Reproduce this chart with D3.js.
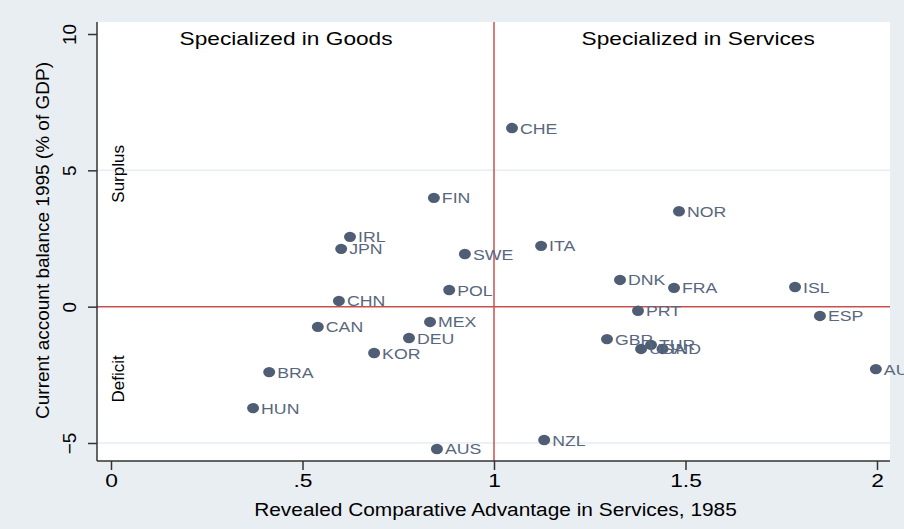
<!DOCTYPE html>
<html>
<head>
<meta charset="utf-8">
<script src="https://cdn.jsdelivr.net/npm/d3@7"></script>
<style>
  body { margin: 0; background: #e9eef3; }
  svg { display: block; font-family: "Liberation Sans", Arial, sans-serif; }
</style>
</head>
<body>
<svg id="canvas" width="904" height="529"></svg>
<script>
// countries, revealed comparative advantage in services (1985), current account 1995 (% of GDP)
let countries = ["CHE", "FIN", "NOR", "IRL", "JPN", "ITA", "SWE", "DNK", "FRA", "ISL",
  "POL", "CHN", "PRT", "ESP", "CAN", "MEX", "DEU", "GBR", "TUR", "USA",
  "IND", "KOR", "BRA", "AUT", "HUN", "NZL", "AUS"];
let rcaValues = [1.047, 0.843, 1.483, 0.624, 0.601, 1.123, 0.924, 1.329, 1.470, 1.786,
  0.883, 0.595, 1.376, 1.851, 0.540, 0.833, 0.778, 1.295, 1.410, 1.384,
  1.440, 0.687, 0.413, 1.997, 0.371, 1.131, 0.851];
let balanceValues = [6.55, 3.99, 3.50, 2.56, 2.12, 2.23, 1.93, 0.98, 0.69, 0.72,
  0.61, 0.21, -0.15, -0.34, -0.74, -0.56, -1.15, -1.19, -1.40, -1.55,
  -1.55, -1.70, -2.40, -2.29, -3.72, -4.89, -5.22];

let xTicks = [0, 0.5, 1, 1.5, 2];
let xTickLabels = ["0", ".5", "1", "1.5", "2"];
let yTicks = [-5, 0, 5, 10];
let yTickLabels = ["\u22125", "0", "5", "10"];

let canvas = d3.select("#canvas");

let plot = { left: 97, right: 890, top: 22, bottom: 461 };

let xScale = d3.scaleLinear().domain([0, 2]).range([111, 877]);
let yScale = d3.scaleLinear().domain([-5, 10]).range([443, 34]);

// horizontal text, slightly widened like the original export
let wideText = (x, y, str, size, sx) => {
  return canvas.append("text")
    .attr("transform", "translate(" + x + "," + y + ") scale(" + sx + ",1)")
    .attr("text-anchor", "middle")
    .attr("font-size", size + "px")
    .attr("fill", "#000")
    .text(str);
};

// white plot region
canvas.append("rect")
  .attr("x", plot.left)
  .attr("y", plot.top)
  .attr("width", plot.right - plot.left)
  .attr("height", plot.bottom - plot.top)
  .attr("fill", "#ffffff");

// grid lines
canvas.selectAll("line.grid")
  .data([-5, 5])
  .enter()
  .append("line")
  .attr("class", "grid")
  .attr("x1", plot.left)
  .attr("x2", plot.right)
  .attr("y1", (d) => yScale(d))
  .attr("y2", (d) => yScale(d))
  .attr("stroke", "#e6edf3")
  .attr("stroke-width", 1.5);

// reference lines
canvas.append("line")
  .attr("x1", xScale(1)).attr("x2", xScale(1))
  .attr("y1", plot.top).attr("y2", plot.bottom)
  .attr("stroke", "#c8504f").attr("stroke-width", 1.5);
canvas.append("line")
  .attr("x1", plot.left).attr("x2", plot.right)
  .attr("y1", yScale(0)).attr("y2", yScale(0))
  .attr("stroke", "#c8504f").attr("stroke-width", 1.5);

// axes
let xAxis = d3.axisBottom(xScale)
  .tickValues(xTicks)
  .tickFormat((d, i) => xTickLabels[i])
  .tickSize(9)
  .tickPadding(4);
let yAxis = d3.axisLeft(yScale)
  .tickValues(yTicks)
  .tickFormat((d, i) => yTickLabels[i])
  .tickSize(9);

let xg = canvas.append("g")
  .attr("transform", "translate(0," + plot.bottom + ")")
  .call(xAxis);
xg.select(".domain").attr("d", "M" + plot.left + ",0H" + plot.right);

let yg = canvas.append("g")
  .attr("transform", "translate(" + plot.left + ",0)")
  .call(yAxis);
yg.select(".domain").attr("d", "M0," + plot.top + "V" + plot.bottom);

[xg, yg].forEach((g) => {
  g.selectAll("path, line").attr("stroke", "#333").attr("stroke-width", 1.5);
  g.selectAll("text").attr("fill", "#000").attr("font-size", "19px")
    .attr("font-family", "Liberation Sans, Arial, sans-serif");
});
xg.selectAll(".tick text").attr("transform", "scale(1.2,1)");
yg.selectAll(".tick text")
  .attr("transform", "translate(-21,0) rotate(-90)")
  .attr("text-anchor", "middle")
  .attr("x", 0).attr("y", 0).attr("dy", "0");

// axis titles
wideText((plot.left + plot.right) / 2 + 2, 516, "Revealed Comparative Advantage in Services, 1985", 18, 1.16);
canvas.append("text")
  .attr("transform", "translate(49," + ((plot.top + plot.bottom) / 2 - 1) + ") rotate(-90)")
  .attr("text-anchor", "middle")
  .attr("font-size", "19px")
  .text("Current account balance 1995 (% of GDP)");

// annotations
wideText(xScale(0.457), 45, "Specialized in Goods", 18, 1.26);
wideText(xScale(1.533), 45, "Specialized in Services", 18, 1.26);
canvas.append("text")
  .attr("transform", "translate(124," + yScale(4.87) + ") rotate(-90)")
  .attr("text-anchor", "middle").attr("font-size", "17px")
  .text("Surplus");
canvas.append("text")
  .attr("transform", "translate(124," + yScale(-2.65) + ") rotate(-90)")
  .attr("text-anchor", "middle").attr("font-size", "17px")
  .text("Deficit");

// points
let points = countries.map((c, i) => ({ name: c, x: rcaValues[i], y: balanceValues[i] }));

let marks = canvas.append("g");
marks.selectAll("ellipse")
  .data(points)
  .enter()
  .append("ellipse")
  .attr("cx", (d) => xScale(d.x))
  .attr("cy", (d) => yScale(d.y))
  .attr("rx", 6)
  .attr("ry", 5.2)
  .attr("fill", "#4f5e75");

marks.selectAll("text")
  .data(points)
  .enter()
  .append("text")
  .attr("transform", (d) => "translate(" + (xScale(d.x) + 8) + "," + (yScale(d.y) + 5.5) + ") scale(1.18,1)")
  .attr("font-size", "15px")
  .attr("fill", "#58677d")
  .text((d) => d.name);
</script>
</body>
</html>
